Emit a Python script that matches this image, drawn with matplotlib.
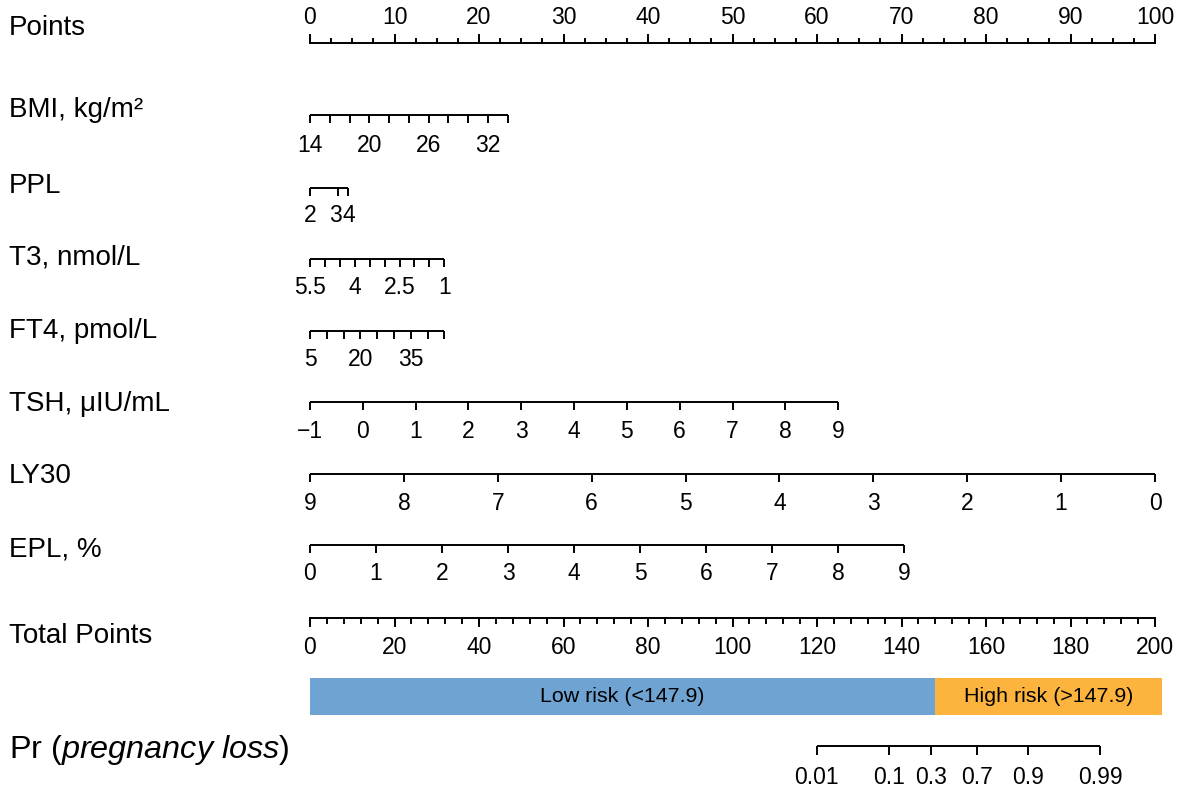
import matplotlib.pyplot as plt
import numpy as np

plt.rcParams['font.family'] = ['Liberation Sans', 'DejaVu Sans']
plt.rcParams['mathtext.fontset'] = 'custom'
plt.rcParams['mathtext.rm'] = 'Liberation Sans'
plt.rcParams['mathtext.it'] = 'Liberation Sans:italic'

# ---- data (points assigned at the ends of each predictor scale) ----
points_major = np.arange(0, 101, 10)
points_minor = np.arange(0, 100.1, 2.5)

bmi_ticks = np.arange(14, 35, 2)
bmi_labels = [14, 20, 26, 32]
bmi_range, bmi_pts = [14, 34], [0, 23.4]

ppl_ticks = [2, 3, 4]
ppl_pts = [0, 3.35, 4.53]

t3_ticks = np.arange(5.5, 0.9, -0.5)
t3_labels = [5.5, 4, 2.5, 1]
t3_range, t3_pts = [5.5, 1], [0, 15.9]

ft4_ticks = np.arange(5, 46, 5)
ft4_labels = [5, 20, 35]
ft4_range, ft4_pts = [5, 45], [0, 15.9]

tsh_ticks = np.arange(-1, 10, 1)
tsh_range, tsh_pts = [-1, 9], [0, 62.5]

ly30_ticks = np.arange(9, -1, -1)
ly30_range, ly30_pts = [9, 0], [0, 100]

epl_ticks = np.arange(0, 10, 1)
epl_range, epl_pts = [0, 9], [0, 70.3]

total_major = np.arange(0, 201, 20)
total_minor = np.arange(0, 201, 4)

risk_cut = 147.9
risk_end = 201.7

pr_labels = ['0.01', '0.1', '0.3', '0.7', '0.9', '0.99']
pr_total = [119.9, 137.1, 146.9, 157.9, 170.0, 187.1]

# ---- layout (pixels) ----
W, H = 1181, 795
X0, PPP = 310, 8.45
LW = 1.4
TICK_FS = 16.5
NAME_FS = 20

fig = plt.figure(figsize=(W / 100, H / 100), dpi=100)
ax = fig.add_axes([0, 0, 1, 1])
ax.set_xlim(-X0 / PPP, (W - X0) / PPP)
ax.set_ylim(H, 0)
ax.axis('off')


def px(x):
    return (x - X0) / PPP


def fmt(v):
    s = ('%g' % v)
    return s.replace('-', '\u2212')


def scale(y, tick_pos, label_pos, labels, label_y, tick_len=8, up=False):
    ax.plot([min(tick_pos), max(tick_pos)], [y, y], color='black', lw=LW,
            solid_capstyle='butt')
    d = -tick_len if up else tick_len
    for p in tick_pos:
        ax.plot([p, p], [y, y + d], color='black', lw=LW, solid_capstyle='butt')
    for p, lab in zip(label_pos, labels):
        ax.text(p, label_y, lab, ha='center', va='center', fontsize=TICK_FS)


def name(y, text, size=NAME_FS):
    ax.text(px(9), y, text, ha='left', va='center', fontsize=size)


# Points
ax.plot([0, 100], [43, 43], color='black', lw=LW, solid_capstyle='butt')
for p in points_minor:
    ax.plot([p, p], [43, 39], color='black', lw=LW)
for p in points_major:
    ax.plot([p, p], [43, 35], color='black', lw=LW)
    ax.text(p, 18, fmt(p), ha='center', va='center', fontsize=TICK_FS)
name(28, 'Points')

# BMI
pos = np.interp(bmi_ticks, bmi_range, bmi_pts)
scale(115, pos, np.interp(bmi_labels, bmi_range, bmi_pts),
      [fmt(v) for v in bmi_labels], 145)
name(110, 'BMI, kg/m\u00b2')

# PPL
scale(188, ppl_pts, [0, 3.0, 4.6], ['2', '3', '4'], 216)
name(186, 'PPL')

# T3 (decreasing)
pos = np.interp(t3_ticks, t3_range[::-1], t3_pts[::-1])
scale(259, pos, np.interp(t3_labels, t3_range[::-1], t3_pts[::-1]),
      [fmt(v) for v in t3_labels], 288)
name(257, 'T3, nmol/L')

# FT4
pos = np.interp(ft4_ticks, ft4_range, ft4_pts)
scale(331, pos, np.interp(ft4_labels, ft4_range, ft4_pts),
      [fmt(v) for v in ft4_labels], 360)
name(331, 'FT4, pmol/L')

# TSH
pos = np.interp(tsh_ticks, tsh_range, tsh_pts)
scale(402, pos, pos, [fmt(v) for v in tsh_ticks], 432)
name(404, 'TSH, \u03bcIU/mL')

# LY30 (decreasing)
pos = np.interp(ly30_ticks, ly30_range[::-1], ly30_pts[::-1])
scale(474, pos, pos, [fmt(v) for v in ly30_ticks], 503)
name(476, 'LY30')

# EPL
pos = np.interp(epl_ticks, epl_range, epl_pts)
scale(545, pos, pos, [fmt(v) for v in epl_ticks], 574)
name(549, 'EPL, %')

# Total Points
ax.plot([0, 100], [618, 618], color='black', lw=LW, solid_capstyle='butt')
for t in total_minor:
    ax.plot([t / 2, t / 2], [618, 623], color='black', lw=LW)
for t in total_major:
    ax.plot([t / 2, t / 2], [618, 626], color='black', lw=LW)
    ax.text(t / 2, 648, fmt(t), ha='center', va='center', fontsize=TICK_FS)
name(636, 'Total Points')

# risk bar
ax.barh(696.5, risk_cut / 2, left=0, height=37, color='#6FA4D2', align='center')
ax.barh(696.5, (risk_end - risk_cut) / 2, left=risk_cut / 2, height=37,
        color='#FCB43E', align='center')
ax.text(risk_cut / 4, 697, 'Low risk (<147.9)', ha='center', va='center',
        fontsize=15.4)
ax.text((risk_cut + risk_end) / 4, 697, 'High risk (>147.9)', ha='center',
        va='center', fontsize=15.4)

# Pr
pos = [t / 2 for t in pr_total]
scale(746, pos, pos, pr_labels, 777, tick_len=9)
name(750, 'Pr ($\\it{pregnancy\\ loss}$)', size=23.3)

fig.savefig('out.png', dpi=100)
